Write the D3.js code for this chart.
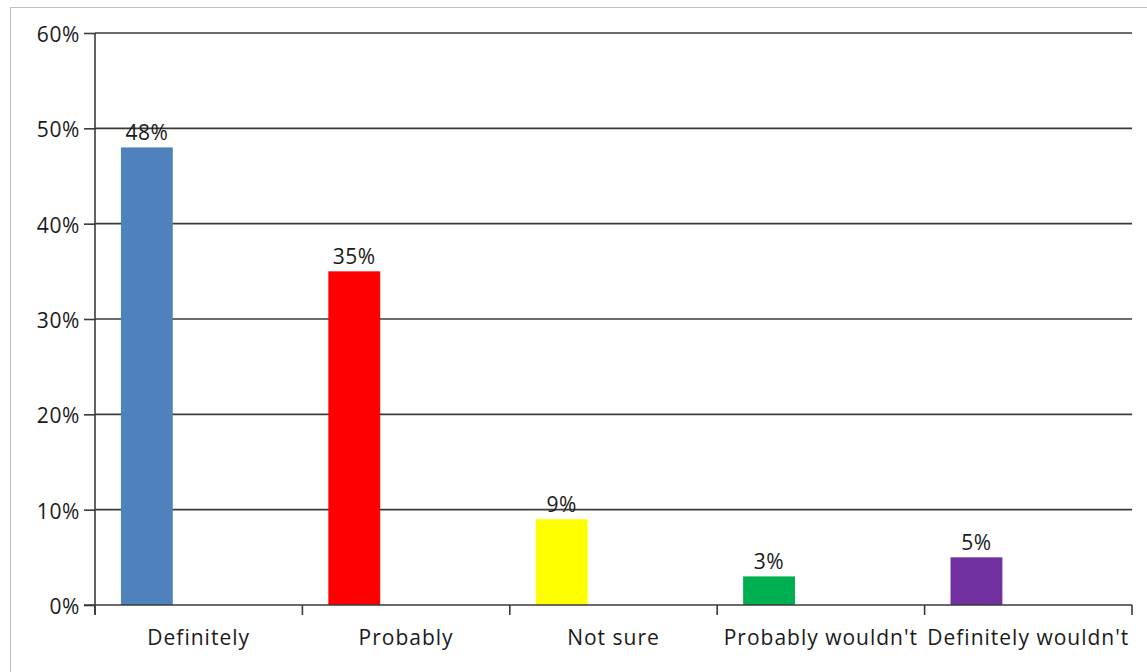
<!DOCTYPE html>
<html>
<head>
<meta charset="utf-8">
<script src="https://cdn.jsdelivr.net/npm/d3@7"></script>
<style>
  html, body { margin: 0; padding: 0; background: #fff; }
  svg { display: block; }
  text { font-family: "Open Sans", sans-serif; fill: #1a1a1a; }
</style>
</head>
<body>
<div id="container"></div>
<script>
const categories = ["Definitely", "Probably", "Not sure", "Probably wouldn't", "Definitely wouldn't"];
const values = [0.48, 0.35, 0.09, 0.03, 0.05];
const colors = ["#4f81bd", "#ff0000", "#ffff00", "#00b050", "#7030a0"];
const yTicks = [0, 0.1, 0.2, 0.3, 0.4, 0.5, 0.6];

const W = 1147, H = 672;
const margin = {top: 33, right: 15, bottom: 67, left: 95};
const width = W - margin.left - margin.right;
const height = H - margin.top - margin.bottom;

const svg = d3.select("#container")
  .append("svg")
  .attr("width", W)
  .attr("height", H);

// outer chart frame (runs off the right and bottom edges)
svg.append("rect")
  .attr("x", 10.5)
  .attr("y", 7.5)
  .attr("width", W + 20)
  .attr("height", H + 20)
  .attr("fill", "none")
  .attr("stroke", "#bfbfbf")
  .attr("stroke-width", 1);

const g = svg.append("g")
  .attr("transform", `translate(${margin.left},${margin.top})`);

const x = d3.scaleBand()
  .domain(categories)
  .range([0, width])
  .padding(0);

const y = d3.scaleLinear()
  .domain([0, 0.6])
  .range([height, 0]);

// gridlines
g.append("g")
  .selectAll("line")
  .data(yTicks.slice(1))
  .join("line")
  .attr("x1", 0)
  .attr("x2", width)
  .attr("y1", d => y(d))
  .attr("y2", d => y(d))
  .attr("stroke", "#3a3a3a")
  .attr("stroke-width", 1.6);

// bars
const bw = x.bandwidth();
g.append("g")
  .selectAll("rect")
  .data(values)
  .join("rect")
  .attr("x", (d, i) => x(categories[i]) + bw * 0.125)
  .attr("width", bw * 0.25)
  .attr("y", d => y(d))
  .attr("height", d => height - y(d))
  .attr("fill", (d, i) => colors[i]);

// value labels
g.append("g")
  .selectAll("text")
  .data(values)
  .join("text")
  .attr("x", (d, i) => x(categories[i]) + bw * 0.25)
  .attr("y", d => y(d) - 7)
  .attr("text-anchor", "middle")
  .style("font-size", "21px")
  .style("letter-spacing", "0.5px")
  .text(d => d3.format(".0%")(d));

// y axis
const yAxis = g.append("g")
  .call(d3.axisLeft(y).tickValues(yTicks).tickFormat(d3.format(".0%")).tickSize(11).tickPadding(4));
yAxis.select(".domain").attr("stroke", "#3a3a3a").attr("stroke-width", 1.6).attr("d", `M0,${height + 10}V0`);
yAxis.selectAll(".tick line").attr("stroke", "#3a3a3a").attr("stroke-width", 1.6);
yAxis.selectAll("text")
  .style("font-size", "21px")
  .style("letter-spacing", "0.6px")
  .style("font-family", "'Open Sans', sans-serif")
  .attr("fill", "#1a1a1a")
  .attr("dy", "0.4em");

// x axis
const xTicks = categories.map(c => x(c)).concat([width]);
const xAxis = g.append("g")
  .attr("transform", `translate(0,${height})`);
xAxis.append("line")
  .attr("x1", -11)
  .attr("x2", width)
  .attr("stroke", "#3a3a3a")
  .attr("stroke-width", 1.6);
xAxis.selectAll("line.tk")
  .data(xTicks)
  .join("line")
  .attr("class", "tk")
  .attr("x1", d => d)
  .attr("x2", d => d)
  .attr("y1", 0)
  .attr("y2", 10)
  .attr("stroke", "#3a3a3a")
  .attr("stroke-width", 1.6);
xAxis.selectAll("text")
  .data(categories)
  .join("text")
  .attr("x", d => x(d) + bw / 2)
  .attr("y", 40)
  .attr("text-anchor", "middle")
  .style("font-size", "21px")
  .style("letter-spacing", "1px")
  .text(d => d);
</script>
</body>
</html>
